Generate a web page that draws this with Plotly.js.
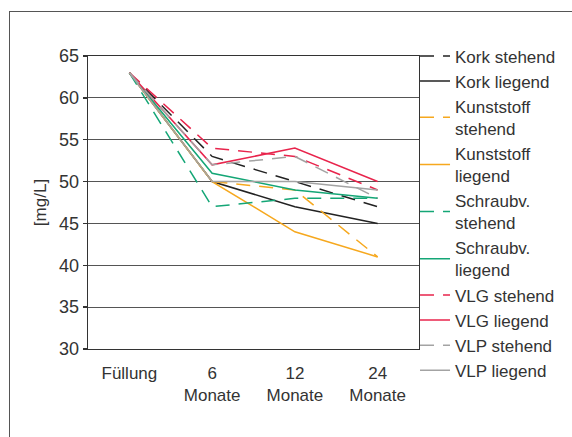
<!DOCTYPE html>
<html>
<head>
<meta charset="utf-8">
<script src="https://cdn.plot.ly/plotly-3.0.1.min.js"></script>
<style>
html,body{margin:0;padding:0;overflow:hidden;background:#fff;}
#frame{position:absolute;left:9px;top:11px;width:700px;height:600px;border:1.5px solid #555;box-sizing:border-box;}
#chart{position:absolute;left:0;top:0;width:572px;height:437px;}
</style>
</head>
<body>
<div id="frame"></div>
<div id="chart"></div>
<script>
const categories = ["Füllung", "6<br>Monate", "12<br>Monate", "24<br>Monate"];
const seriesNames = ["Kork stehend", "Kork liegend", "Kunststoff<br>stehend", "Kunststoff<br>liegend",
  "Schraubv.<br>stehend", "Schraubv.<br>liegend", "VLG stehend", "VLG liegend", "VLP stehend", "VLP liegend"];
const korkStehend = [63, 53, 50, 47];
const korkLiegend = [63, 50, 47, 45];
const kunststoffStehend = [63, 50, 49, 41];
const kunststoffLiegend = [63, 50, 44, 41];
const schraubvStehend = [63, 47, 48, 48];
const schraubvLiegend = [63, 51, 49, 48];
const vlgStehend = [63, 54, 53, 49];
const vlgLiegend = [63, 52, 54, 50];
const vlpStehend = [63, 52, 53, 48];
const vlpLiegend = [63, 50, 50, 49];
const yTicks = [30, 35, 40, 45, 50, 55, 60, 65];

const values = [korkStehend, korkLiegend, kunststoffStehend, kunststoffLiegend, schraubvStehend,
  schraubvLiegend, vlgStehend, vlgLiegend, vlpStehend, vlpLiegend];
const colors = ["#222222", "#222222", "#f6a81e", "#f6a81e", "#14a676", "#14a676",
  "#e8244c", "#e8244c", "#a3a3a3", "#a3a3a3"];
const dashes = ["14px,9px", "solid", "14px,9px", "solid", "14px,9px", "solid",
  "14px,9px", "solid", "14px,9px", "solid"];

const traces = values.map((v, i) => ({
  type: "scatter", mode: "lines", x: categories, y: v, name: seriesNames[i],
  line: {color: colors[i], width: 1.5, dash: dashes[i]}
}));

const font = {family: "Liberation Sans, Arial, sans-serif", size: 17, color: "#333"};
const layout = {
  width: 572, height: 437,
  margin: {l: 88, r: 152, t: 56, b: 88},
  paper_bgcolor: "rgba(0,0,0,0)", plot_bgcolor: "rgba(0,0,0,0)",
  font: font,
  showlegend: true,
  legend: {x: 0.985, xanchor: "left", y: 1.06, yanchor: "top", bgcolor: "rgba(0,0,0,0)",
    maxheight: 430, font: {family: font.family, size: 17, color: "#333"}, tracegroupgap: 0},
  xaxis: {type: "category", range: [-0.5, 3.5], showgrid: false, showline: true, mirror: true,
    linecolor: "#333", linewidth: 1.3, ticks: "", ticklabelstandoff: 8,
    tickfont: {size: 17, color: "#333"}, fixedrange: true},
  yaxis: {range: [30, 65], tickvals: yTicks, showgrid: true, gridcolor: "#555", gridwidth: 1.2,
    showline: true, mirror: true, linecolor: "#333", linewidth: 1.3, ticks: "outside", ticklen: 4,
    tickcolor: "#333", tickwidth: 1.3, zeroline: false, tickfont: {size: 18, color: "#333"},
    title: {text: "[mg/L]", font: {size: 17, color: "#333"}, standoff: 8}, fixedrange: true}
};
Plotly.newPlot("chart", traces, layout, {displayModeBar: false, staticPlot: true});
</script>
</body>
</html>
